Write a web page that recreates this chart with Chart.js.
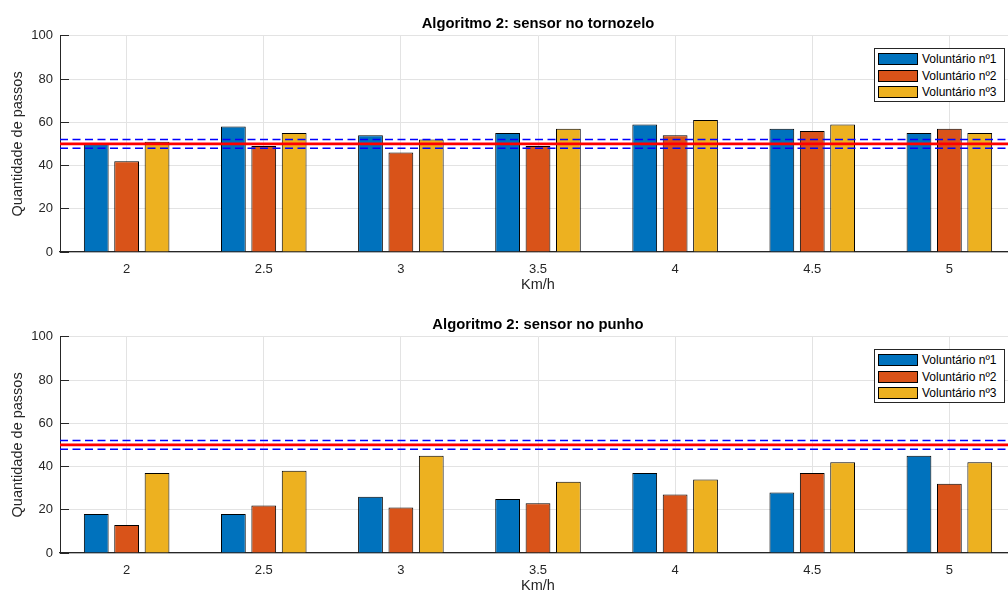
<!DOCTYPE html>
<html><head><meta charset="utf-8">
<script src="https://cdn.jsdelivr.net/npm/chart.js@4.4.1/dist/chart.umd.min.js"></script>
<style>
html,body{margin:0;padding:0;width:1008px;height:592px;overflow:hidden;background:#fff;}
.wrap{position:absolute;left:0;width:1008px;height:296px;overflow:hidden;}
canvas{display:block;}
.legend{position:absolute;left:874px;width:129px;height:52px;border:1px solid #262626;background:#fff;font:12px 'Liberation Sans',Arial,Helvetica,sans-serif;color:#000;}
.row{position:absolute;left:3px;height:12px;display:flex;align-items:center;white-space:nowrap;}
.sw{width:38px;height:10px;border:1px solid #000;margin-right:4px;flex:none;}
</style></head><body>
<div class="wrap" style="top:0"><canvas id="c1" width="1016" height="296"></canvas><div class="legend" id="l1" style="top:48px"></div></div>
<div class="wrap" style="top:301px"><canvas id="c2" width="1016" height="296"></canvas><div class="legend" id="l2" style="top:48px"></div></div>
<script>
// ---- data ----
const speeds = [2, 2.5, 3, 3.5, 4, 4.5, 5];
const volunteers = ['Voluntário nº1', 'Voluntário nº2', 'Voluntário nº3'];
const tornozeloV1 = [50, 58, 54, 55, 59, 57, 55];
const tornozeloV2 = [42, 49, 46, 49, 54, 56, 57];
const tornozeloV3 = [51, 55, 52, 57, 61, 59, 55];
const punhoV1 = [18, 18, 26, 25, 37, 28, 45];
const punhoV2 = [13, 22, 21, 23, 27, 37, 32];
const punhoV3 = [37, 38, 45, 33, 34, 42, 42];
const targetSteps = [50];
const toleranceSteps = [48, 52];
const yTicks = [0, 20, 40, 60, 80, 100];
const titles = ['Algoritmo 2: sensor no tornozelo', 'Algoritmo 2: sensor no punho'];

// ---- styles ----
const colors = ['#0072BD', '#D95319', '#EDB120'];
const FONT = "'Liberation Sans', Arial, Helvetica, sans-serif";
Chart.defaults.font.family = FONT;
Chart.defaults.color = '#262626';

// horizontal reference lines, positioned through the chart's own y scale
const refLines = {
  id: 'refLines',
  afterDatasetsDraw(chart) {
    const {ctx, chartArea: a, scales: {y}} = chart;
    ctx.save();
    ctx.beginPath(); ctx.rect(a.left, a.top, a.width, a.height); ctx.clip();
    const draw = (v, color, width, dash) => {
      const py = y.getPixelForValue(v);
      ctx.beginPath();
      ctx.setLineDash(dash);
      ctx.lineWidth = width; ctx.strokeStyle = color;
      ctx.moveTo(a.left, py); ctx.lineTo(a.right, py);
      ctx.stroke();
    };
    toleranceSteps.forEach(v => draw(v, '#0000ff', 1.4, [8, 4.5]));
    targetSteps.forEach(v => draw(v, '#ff0000', 2.6, []));
    ctx.restore();
  }
};

function makeChart(id, legendId, title, series) {
  const datasets = series.map((vals, i) => ({
    label: volunteers[i], data: vals,
    backgroundColor: colors[i], borderColor: '#000', borderWidth: 1,
    categoryPercentage: 0.665, barPercentage: 0.815
  }));

  new Chart(document.getElementById(id), {
    type: 'bar',
    data: { labels: speeds, datasets: datasets },
    plugins: [refLines],
    options: {
      responsive: false, animation: false,
      layout: { padding: 0 },
      plugins: {
        legend: { display: false },
        tooltip: { enabled: false },
        title: {
          display: true, text: title, color: '#000', fullSize: false,
          font: { size: 14.8, weight: 'bold', family: FONT },
          padding: { top: 15, bottom: 3 }
        }
      },
      scales: {
        x: {
          type: 'linear', min: 1.757, max: 5.243, offset: false,
          afterBuildTicks: s => { s.ticks = speeds.map(v => ({ value: v })); },
          afterFit: s => { s.height = 44; },
          grid: { color: '#e3e3e3', offset: false, drawTicks: false },
          border: { display: true, color: '#262626', width: 1.3 },
          ticks: { padding: 10, font: { size: 13 }, color: '#262626', callback: v => String(v) },
          title: { display: true, text: 'Km/h', color: '#262626', font: { size: 14.5 }, padding: { top: 0, bottom: 2 } }
        },
        y: {
          min: 0, max: 100,
          afterBuildTicks: s => { s.ticks = yTicks.map(v => ({ value: v })); },
          afterFit: s => { s.width = 60; },
          grid: { color: '#e3e3e3', drawTicks: true, tickLength: -9, tickColor: '#262626', tickWidth: 1 },
          border: { display: true, color: '#262626', width: 1 },
          ticks: { padding: 16, font: { size: 13 }, color: '#262626' },
          title: { display: true, text: 'Quantidade de passos', color: '#262626', font: { size: 14.5 }, padding: { top: 9, bottom: 0 } }
        }
      }
    }
  });

  const lg = document.getElementById(legendId);
  volunteers.forEach((name, i) => {
    const row = document.createElement('div');
    row.className = 'row';
    row.style.top = (4 + i * 16.67) + 'px';
    const sw = document.createElement('div');
    sw.className = 'sw';
    sw.style.background = colors[i];
    const tx = document.createElement('span');
    tx.textContent = name;
    row.appendChild(sw); row.appendChild(tx);
    lg.appendChild(row);
  });
}

makeChart('c1', 'l1', titles[0], [tornozeloV1, tornozeloV2, tornozeloV3]);
makeChart('c2', 'l2', titles[1], [punhoV1, punhoV2, punhoV3]);
</script>
</body></html>
